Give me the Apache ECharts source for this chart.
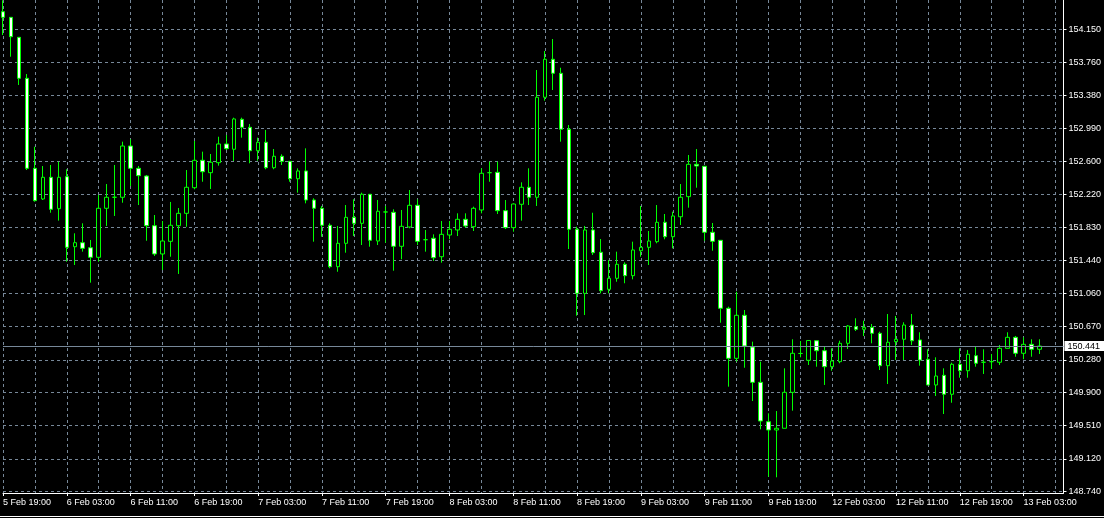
<!DOCTYPE html>
<html><head><meta charset="utf-8">
<script src="https://cdn.jsdelivr.net/npm/echarts@6/dist/echarts.min.js"></script>
<style>html,body{margin:0;padding:0;background:#000;}#c{width:1104px;height:518px;}</style>
</head><body><div id="c"></div>
<script>
// Hourly session days: [label, firstHour, lastHour]
const days = [['5 Feb',19,23],['6 Feb',0,23],['7 Feb',0,23],['8 Feb',0,23],['9 Feb',0,23],['12 Feb',0,23],['13 Feb',0,8]];
const yTicks = [148.74,149.12,149.51,149.90,150.28,150.67,151.06,151.44,151.83,152.22,152.60,152.99,153.38,153.76,154.15];
const bidPrice = 150.441;

const open = [
154.356,154.290,154.056,153.576,152.522,152.163,152.417,152.049,152.424,151.604,
151.651,151.592,151.480,152.054,152.183,152.183,152.783,152.522,152.432,151.850,
151.519,151.667,151.850,151.995,152.295,152.616,152.471,152.588,152.807,152.745,
153.096,153.002,152.728,152.827,152.529,152.663,152.604,152.400,152.491,152.151,
152.054,151.855,151.370,151.644,151.948,151.878,152.218,151.671,152.011,152.007,
151.609,151.835,152.089,151.686,151.703,151.487,151.741,151.800,151.925,151.838,
152.034,152.471,152.475,152.026,151.827,152.101,152.300,152.183,153.354,153.799,
153.635,152.979,151.808,151.058,151.800,151.539,151.105,151.234,151.398,151.265,
151.557,151.597,151.663,151.890,151.721,151.955,152.190,152.569,152.546,151.773,
151.679,150.883,150.297,150.801,150.430,150.016,149.555,149.458,149.478,149.899,
150.354,150.274,150.503,150.386,150.199,150.258,150.473,150.667,150.637,150.660,
150.590,150.211,150.492,150.520,150.687,150.512,150.286,149.985,150.098,149.876,
150.227,150.152,150.328,150.251,150.258,150.251,150.414,150.543,150.356,150.461,150.403];
const close = [
154.290,154.063,153.576,152.522,152.143,152.417,152.042,152.417,151.597,151.651,
151.585,151.480,152.054,152.183,152.183,152.783,152.522,152.436,151.850,151.519,
151.671,151.855,151.995,152.300,152.616,152.482,152.593,152.807,152.752,153.100,
153.002,152.728,152.827,152.529,152.663,152.604,152.400,152.491,152.151,152.054,
151.855,151.370,151.644,151.948,151.878,152.218,151.679,152.019,152.011,151.609,
151.843,152.089,151.667,151.686,151.475,151.749,151.808,151.925,151.847,152.054,
152.464,152.471,152.026,151.827,152.104,152.300,152.183,153.354,153.799,153.635,
152.979,151.808,151.058,151.800,151.534,151.089,151.234,151.398,151.265,151.566,
151.597,151.671,151.890,151.721,151.964,152.183,152.569,152.549,151.773,151.667,
150.883,150.297,150.801,150.441,150.016,149.563,149.458,149.478,149.899,150.356,
150.354,150.506,150.386,150.199,150.266,150.473,150.676,150.637,150.660,150.590,
150.211,150.485,150.520,150.687,150.503,150.277,149.985,150.090,149.876,150.227,
150.152,150.344,150.239,150.251,150.258,150.414,150.543,150.356,150.461,150.403,150.441];
const high = [
154.490,154.290,154.056,153.626,152.775,152.549,152.561,152.600,152.511,151.761,
151.878,151.683,152.210,152.338,152.561,152.834,152.862,152.549,152.444,151.975,
151.905,152.128,152.057,152.502,152.842,152.717,152.690,152.892,152.912,153.115,
153.115,153.041,152.881,152.971,152.748,152.686,152.604,152.522,152.756,152.171,
152.081,151.878,151.847,152.092,152.159,152.237,152.218,152.151,152.081,152.042,
152.034,152.268,152.159,151.800,151.749,151.905,151.905,151.995,151.995,152.073,
152.522,152.600,152.600,152.151,152.112,152.358,152.522,153.673,153.896,154.036,
153.700,153.029,151.838,151.847,152.002,151.694,151.448,151.546,151.422,151.663,
152.081,151.788,152.092,151.987,152.014,152.338,152.678,152.748,152.546,151.882,
151.679,150.902,151.077,150.863,150.492,150.258,149.653,149.680,150.180,150.520,
150.500,150.508,150.503,150.433,150.414,150.503,150.687,150.766,150.738,150.699,
150.609,150.816,150.793,150.719,150.816,150.602,150.403,150.309,150.180,150.246,
150.414,150.395,150.433,150.403,150.348,150.453,150.602,150.559,150.543,150.520,150.520];
const low = [
154.083,153.829,153.498,152.502,152.131,152.151,152.002,151.909,151.429,151.390,
151.546,151.183,151.429,151.847,151.964,152.119,152.315,152.092,151.674,151.495,
151.331,151.487,151.285,151.838,152.276,152.365,152.280,152.553,152.737,152.608,
152.881,152.581,152.611,152.511,152.511,152.561,152.365,152.237,152.112,151.663,
151.721,151.351,151.311,151.534,151.729,151.624,151.604,151.624,151.651,151.323,
151.457,151.820,151.624,151.546,151.437,151.417,151.691,151.729,151.827,151.788,
151.995,152.365,151.987,151.811,151.780,151.909,152.092,152.081,153.314,153.439,
152.834,151.577,150.796,150.804,151.507,151.058,151.058,151.194,151.176,151.222,
151.487,151.390,151.644,151.691,151.585,151.858,152.061,152.295,151.674,151.557,
150.714,149.965,150.258,150.187,149.797,149.466,148.911,148.904,149.478,149.684,
150.309,150.219,150.199,149.985,150.152,150.239,150.406,150.617,150.558,150.473,
150.160,149.996,150.277,150.277,150.453,150.211,149.985,149.856,149.645,149.777,
150.070,150.070,150.199,150.114,150.172,150.219,150.414,150.316,150.286,150.316,150.348];

const categories = [];
days.forEach(([d, h0, h1]) => { for (let h = h0; h <= h1; h++) categories.push(d + ' ' + String(h).padStart(2,'0') + ':00'); });
const candles = open.map((o, i) => [o, close[i], low[i], high[i]]);

const FONT = 'Liberation Sans';
const GRIDC = '#778899';
const chart = echarts.init(document.getElementById('c'), null, {renderer: 'canvas'});
chart.setOption({
  backgroundColor: '#000',
  animation: false,
  grid: {left: 0, top: 0, width: 1064, height: 493, containLabel: false},
  xAxis: {
    type: 'category', data: categories, boundaryGap: false,
    axisLine: {show: true, lineStyle: {color: '#fff', width: 1}},
    axisTick: {show: true, interval: 7, length: 3, lineStyle: {color: '#fff'}},
    axisLabel: {interval: 7, align: 'left', color: '#fff', fontFamily: FONT, fontSize: 9, margin: 5,
      hideOverlap: false},
    splitLine: {show: true, interval: 3, lineStyle: {color: GRIDC, type: [3, 3], width: 1}}
  },
  yAxis: {
    type: 'value', position: 'right', min: 148.72, max: 154.493,
    axisLine: {show: true, lineStyle: {color: '#fff', width: 1}},
    axisTick: {show: true, length: 3, customValues: yTicks, lineStyle: {color: '#fff'}},
    axisLabel: {customValues: yTicks, color: '#fff', fontFamily: FONT, fontSize: 9, margin: 5,
      formatter: v => v.toFixed(3)},
    splitLine: {show: true, lineStyle: {color: GRIDC, type: [3, 3], width: 1}}
  },
  series: [{
    type: 'candlestick', data: candles, barWidth: 4,
    itemStyle: {color: '#000', color0: '#fff', borderColor: '#00ff00', borderColor0: '#00ff00',
      borderColorDoji: '#00ff00', borderWidth: 1},
    emphasis: {disabled: true},
    markLine: {
      silent: true, symbol: ['none', 'none'], animation: false,
      lineStyle: {color: GRIDC, width: 1, type: 'solid'},
      label: {show: true, position: 'end', distance: 1, formatter: bidPrice.toFixed(3),
        color: '#000', backgroundColor: '#fff', fontFamily: FONT, fontSize: 9, padding: [1, 4, 0, 3]},
      data: [{yAxis: bidPrice}]
    }
  }],
  graphic: [{type: 'rect', shape: {x: 0, y: 516, width: 1104, height: 1}, style: {fill: '#fff'}, silent: true}]
});
</script></body></html>
